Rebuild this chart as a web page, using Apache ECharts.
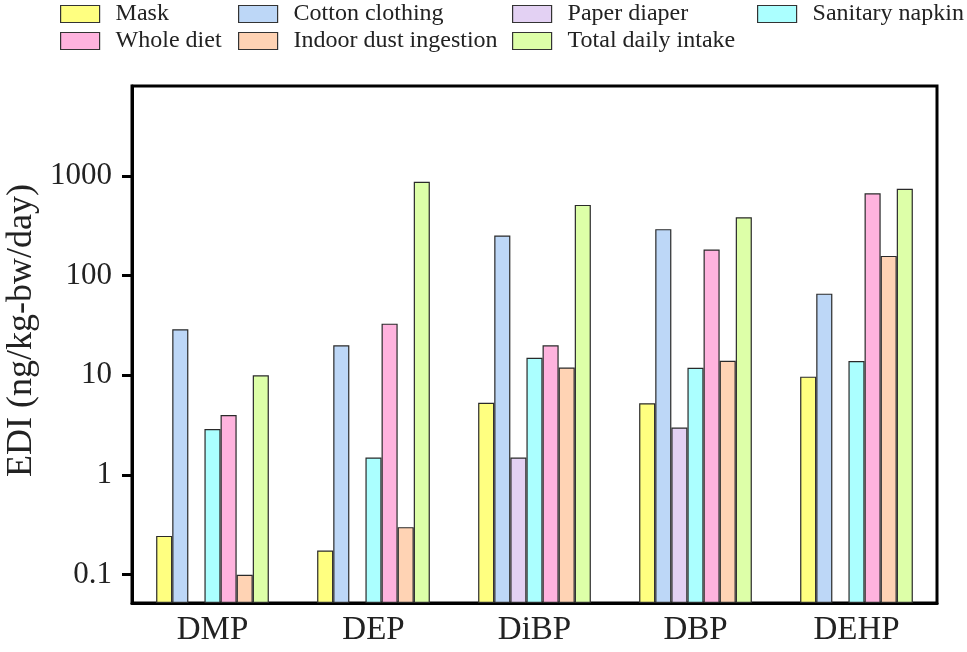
<!DOCTYPE html>
<html><head><meta charset="utf-8">
<script src="https://cdn.jsdelivr.net/npm/echarts@6/dist/echarts.min.js"></script>
<style>html,body{margin:0;padding:0;background:#fff}#c{width:967px;height:652px}</style>
</head><body><div id="c"></div>
<script>
const categories = ['DMP', 'DEP', 'DiBP', 'DBP', 'DEHP'];
const seriesNames = ['Mask', 'Cotton clothing', 'Paper diaper', 'Sanitary napkin', 'Whole diet', 'Indoor dust ingestion', 'Total daily intake'];
const mask = [0.245, 0.175, 5.3, 5.25, 9.7];
const cottonClothing = [29, 20, 253, 293, 66];
const paperDiaper = [null, null, 1.5, 3.0, null];
const sanitaryNapkin = [2.9, 1.5, 15, 11.9, 13.9];
const wholeDiet = [4.0, 33, 20, 183, 670];
const indoorDust = [0.1, 0.3, 12, 14, 158];
const totalDaily = [10, 877, 513, 386, 746];
const yTickValues = [0.1, 1, 10, 100, 1000];
const colors = ['#FFFF80', '#BDD7F7', '#E3D1F3', '#ABFFFF', '#FFB3DE', '#FFD3B4', '#DDFFA8'];

const seriesData = [mask, cottonClothing, paperDiaper, sanitaryNapkin, wholeDiet, indoorDust, totalDaily];
const FONT = '"Liberation Serif", "Times New Roman", serif';
const Y_MIN = 0.052, Y_MAX = 8000;

const chart = echarts.init(document.getElementById('c'), null, {renderer: 'canvas'});

const legendCols = [
  {left: 60, data: ['Mask', 'Whole diet']},
  {left: 238, data: ['Cotton clothing', 'Indoor dust ingestion']},
  {left: 512, data: ['Paper diaper', 'Total daily intake']},
  {left: 757, data: ['Sanitary napkin']}
];

const option = {
  animation: false,
  backgroundColor: '#fff',
  color: colors,
  legend: legendCols.map(c => ({
    orient: 'vertical',
    left: c.left,
    top: 2,
    padding: 0,
    data: c.data,
    itemWidth: 39,
    itemHeight: 17,
    itemGap: 3,
    icon: 'rect',
    itemStyle: {borderColor: '#333', borderWidth: 1.2},
    textStyle: {fontFamily: FONT, fontSize: 24, lineHeight: 22, color: '#222', padding: [0, 0, 0, 11]},
    selectedMode: false
  })),
  grid: {
    left: 132, right: 30, top: 86, bottom: 49,
    outerBoundsMode: 'none',
    containLabel: false,
    show: true, borderColor: '#000', borderWidth: 3, backgroundColor: 'transparent'
  },
  xAxis: {
    type: 'category',
    data: categories,
    axisLine: {lineStyle: {color: '#000', width: 3}},
    axisTick: {alignWithLabel: true, length: 9, lineStyle: {color: '#000', width: 3}},
    axisLabel: {fontFamily: FONT, fontSize: 33, color: '#222', margin: 11}
  },
  yAxis: {
    type: 'log',
    logBase: 10,
    min: Y_MIN,
    max: Y_MAX,
    startValue: Y_MIN,
    name: 'EDI (ng/kg-bw/day)',
    nameLocation: 'middle',
    nameGap: 84,
    nameTextStyle: {fontFamily: FONT, fontSize: 36, color: '#222', padding: [0, 0, 0, 28]},
    axisLine: {show: true, lineStyle: {color: '#000', width: 3}},
    axisTick: {show: true, length: 10, lineStyle: {color: '#000', width: 3}, customValues: yTickValues},
    axisLabel: {
      fontFamily: FONT, fontSize: 31, color: '#222', margin: 20,
      showMinLabel: false, showMaxLabel: false,
      formatter: v => String(+Number(v).toPrecision(6))
    },
    splitLine: {show: false}
  },
  series: seriesNames.map((n, i) => ({
    name: n,
    type: 'bar',
    data: seriesData[i],
    barGap: '0%',
    barCategoryGap: '30%',
    itemStyle: {color: colors[i], borderColor: '#2a2a2a', borderWidth: 1.2}
  }))
};
chart.setOption(option);
</script>
</body></html>
